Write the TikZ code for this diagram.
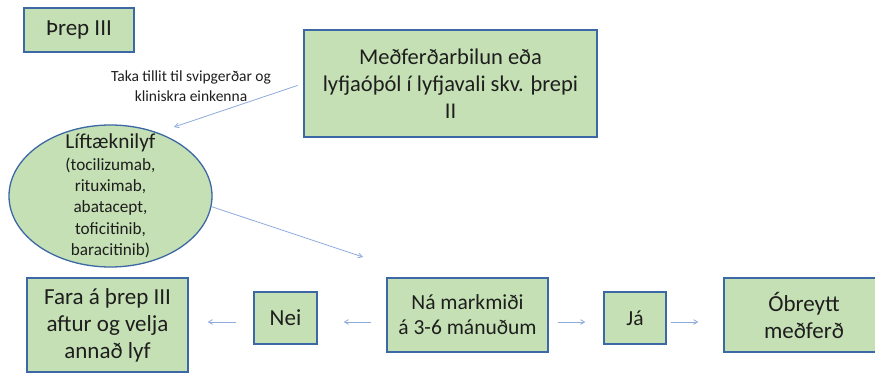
\documentclass[tikz,border=0pt]{standalone}
\usepackage{fontspec}
\setmainfont{Carlito}
\usepackage{tikz}
\usetikzlibrary{arrows,shapes,shapes.geometric,positioning}
\definecolor{ltgreen}{RGB}{197,224,180}
\definecolor{boxblue}{RGB}{60,104,165}
\definecolor{arrowblue}{RGB}{143,170,220}
\definecolor{txtgray}{RGB}{30,30,30}
\tikzstyle{stepbox} = [rectangle, align=center, draw=boxblue, fill=ltgreen, line width=1.3pt, text=txtgray, font=\fontsize{23}{27}\selectfont, inner sep=2pt]
\tikzstyle{drugs} = [ellipse, align=center, draw=boxblue, fill=ltgreen, line width=1.3pt, text=txtgray, inner sep=0pt]
\tikzstyle{arrow} = [line width=0.8pt,->,>=angle 60,color=arrowblue]

\begin{document}
\begin{tikzpicture}[x=1pt,y=-1pt]
\useasboundingbox (0,0) rectangle (875,374);
% top row
\node (step3) [stepbox, minimum width=110pt, minimum height=44pt] at (79,30) {Þrep III};
\node (fail) [stepbox, minimum width=293pt, minimum height=107pt, font=\fontsize{22.5}{27}\selectfont] at (450.5,83.5) {Meðferðarbilun eða\\lyfjaóþól í lyfjavali skv. þrepi\\II};
\node (hint) [align=center, text=txtgray, font=\fontsize{15.5}{20}\selectfont] at (191,86) {Taka tillit til svipgerðar og\\kliniskra einkenna};

% biologics
\node (bio) [drugs, minimum width=203pt, minimum height=142pt] at (110.5,196) {};
\node at (110.5,196) [align=center, text=txtgray, font=\fontsize{17.2}{21.3}\selectfont] {{\fontsize{21.3}{24}\selectfont Líftæknilyf}\\(tocilizumab,\\rituximab,\\abatacept,\\toficitinib,\\baracitinib)};
\coordinate (bioin) at (174,127);
\coordinate (goalin) at (363,257);

% bottom row
\node (fara) [stepbox, minimum width=161pt, minimum height=94pt] at (107.5,325) {Fara á þrep III\\aftur og velja\\annað lyf};
\node (nei) [stepbox, minimum width=63pt, minimum height=52pt] at (285.5,318) {Nei};
\node (goal) [stepbox, minimum width=161pt, minimum height=74pt, font=\fontsize{21.5}{25}\selectfont] at (467.5,315) {Ná markmiði\\á 3-6 mánuðum};
\node (ja) [stepbox, minimum width=62pt, minimum height=52pt, font=\fontsize{21.5}{25}\selectfont] at (635,318) {Já};
\node (same) [stepbox, minimum width=160pt, minimum height=74pt] at (804,315) {Óbreytt\\meðferð};

% arrows
\draw[arrow, shorten <=6pt] (fail.west) -- (bioin);
\draw[arrow] (bio.-6) -- (goalin);
\draw[arrow, shorten <=15pt, shorten >=26pt] ([yshift=-7pt]goal.west) -- ([yshift=-7pt]goal.west -| nei.east);
\draw[arrow, shorten <=17pt, shorten >=19pt] ([yshift=-4pt]nei.west) -- ([yshift=-4pt]nei.west -| fara.east);
\draw[arrow, shorten <=9pt, shorten >=18pt] ([yshift=-7pt]goal.east) -- ([yshift=-7pt]goal.east -| ja.west);
\draw[arrow, shorten <=4pt, shorten >=25pt] ([yshift=-4pt]ja.east) -- ([yshift=-4pt]ja.east -| same.west);
\end{tikzpicture}
\end{document}
